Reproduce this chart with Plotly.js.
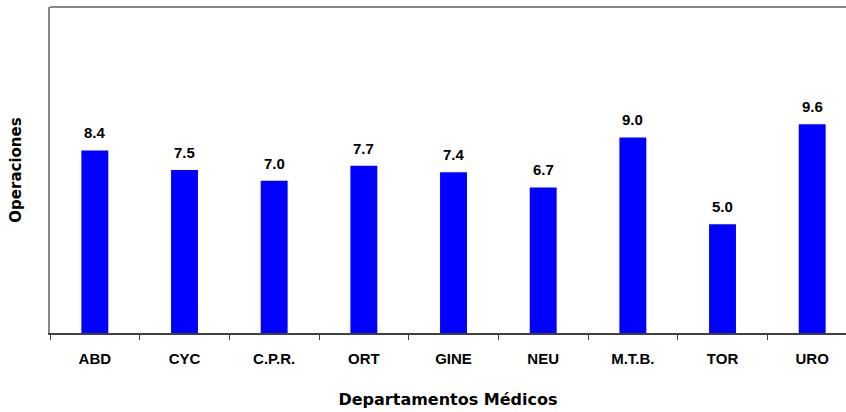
<!DOCTYPE html>
<html>
<head>
<meta charset="utf-8">
<script src="https://cdn.plot.ly/plotly-3.0.1.min.js"></script>
<style>html,body{margin:0;padding:0;background:#fff;}#chart{width:846px;height:412px;}</style>
</head>
<body>
<div id="chart"></div>
<script>
const categories = ["ABD", "CYC", "C.P.R.", "ORT", "GINE", "NEU", "M.T.B.", "TOR", "URO"];
const values = [8.4, 7.5, 7.0, 7.7, 7.4, 6.7, 9.0, 5.0, 9.6];
const xTitle = "Departamentos Médicos";
const yTitle = "Operaciones";

const labelFont = {family: "Liberation Sans, Arial, sans-serif", size: 15, color: "#000"};

const trace = {
  type: "bar",
  x: categories,
  y: values,
  marker: {color: "#0000FF"},
  width: 0.30,
  hoverinfo: "skip"
};

const annotations = categories.map((c, i) => ({
  x: c, y: values[i], xref: "x", yref: "y",
  text: "<b>" + values[i].toFixed(1) + "</b>",
  showarrow: false, yanchor: "bottom", yshift: 7,
  font: labelFont
}));

const layout = {
  width: 846, height: 412,
  margin: {l: 50, r: 0, t: 7, b: 79},
  paper_bgcolor: "#fff", plot_bgcolor: "#fff",
  showlegend: false,
  bargap: 0.7,
  xaxis: {
    type: "category",
    range: [-0.5, 8.377],
    showline: true, linecolor: "#404040", linewidth: 2,
    ticks: "outside", tickson: "boundaries", ticklen: 5, tickwidth: 1, tickcolor: "#404040",
    ticklabelstandoff: 11,
    tickfont: {family: "Liberation Sans, Arial, sans-serif", size: 15, color: "#000", weight: "bold"},
    showgrid: false, zeroline: false,
    title: {text: "<b>" + xTitle + "</b>", standoff: 28,
      font: {family: "DejaVu Sans, Verdana, sans-serif", size: 16, color: "#000"}}
  },
  yaxis: {
    range: [0, 15],
    showline: true, linecolor: "#888", linewidth: 2,
    showticklabels: false, ticks: "", showgrid: false, zeroline: false,
    title: {text: "<b>" + yTitle + "</b>", standoff: 23,
      font: {family: "DejaVu Sans, Verdana, sans-serif", size: 15, color: "#000"}}
  },
  shapes: [{type: "line", xref: "paper", yref: "paper", x0: 0, x1: 1, y0: 1, y1: 1,
    line: {color: "#888", width: 2}}],
  annotations: annotations
};

Plotly.newPlot("chart", [trace], layout, {staticPlot: true, displayModeBar: false});
</script>
</body>
</html>
